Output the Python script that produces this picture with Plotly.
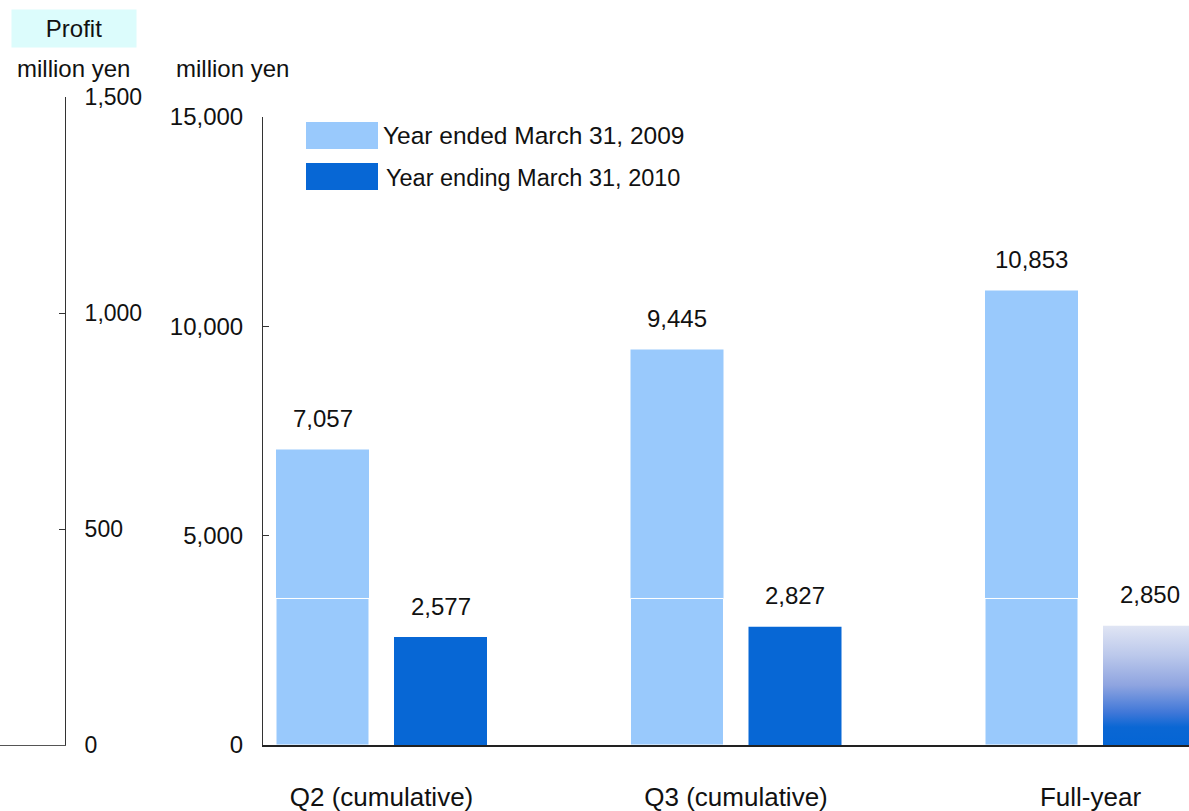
import plotly.graph_objects as go

W, H = 1189, 811

categories = ["Q2 (cumulative)", "Q3 (cumulative)", "Full-year"]
fy2009 = [7057, 9445, 10853]
fy2010 = [2577, 2827, 2850]
fy2010_forecast = [False, False, True]
split_level = [3500, 3500, 3500]
series_names = ["Year ended March 31, 2009", "Year ending March 31, 2010"]
main_ticks = [0, 5000, 10000, 15000]
left_ticks = [0, 500, 1000, 1500]

LIGHT = "#99c9fc"
DARK = "#0767d5"
FONT = "Arial, Liberation Sans, sans-serif"
FS = 24


def px(x):
    return x / W


def py(y):
    return 1 - y / H


xpos = list(range(len(categories)))
unit = 354.5
bw = 93 / unit
off_light = -105.5 / unit
off_dark = 12.5 / unit

fig = go.Figure()

# Light bars (previous year)
fig.add_trace(go.Bar(
    x=xpos, y=fy2009, width=bw, offset=off_light,
    marker=dict(color=LIGHT, line=dict(width=0)),
    name=series_names[0], showlegend=False, hoverinfo="skip"))
fig.add_trace(go.Bar(
    x=xpos, y=split_level, width=bw, offset=off_light,
    marker=dict(color=LIGHT, line=dict(width=1, color="white")),
    showlegend=False, hoverinfo="skip"))

# Dark bars (current year, actuals)
xd = [x for x, f in zip(xpos, fy2010_forecast) if not f]
yd = [v for v, f in zip(fy2010, fy2010_forecast) if not f]
fig.add_trace(go.Bar(
    x=xd, y=yd, width=bw, offset=off_dark,
    marker=dict(color=DARK, line=dict(width=0)),
    name=series_names[1], showlegend=False, hoverinfo="skip"))

# Forecast bar with vertical gradient
for x, v, f in zip(xpos, fy2010, fy2010_forecast):
    if not f:
        continue
    x0 = x + off_dark
    x1 = x0 + bw
    fig.add_trace(go.Scatter(
        x=[x0, x1, x1, x0, x0], y=[0, 0, v, v, 0],
        mode="lines", line=dict(width=0), fill="toself",
        fillgradient=dict(
            type="vertical", start=0, stop=v,
            colorscale=[[0, "#0565d4"], [0.15, "#0a67d4"], [0.27, "#3f77d8"],
                        [0.5, "#8ea4e0"], [0.75, "#bbc8eb"], [1, "#e0e5f4"]]),
        showlegend=False, hoverinfo="skip"))

# invisible trace for the left axis subplot
fig.add_trace(go.Scatter(x=[0.5], y=[0], xaxis="x2", yaxis="y2",
                         mode="markers", marker=dict(opacity=0),
                         showlegend=False, hoverinfo="skip"))

annotations = []
# value labels
for x, v in zip(xpos, fy2009):
    annotations.append(dict(x=x + off_light + bw / 2, y=v, xref="x", yref="y",
                            text=f"{v:,}", showarrow=False, yanchor="middle",
                            yshift=31, font=dict(size=FS, color="#111")))
for x, v in zip(xpos, fy2010):
    annotations.append(dict(x=x + off_dark + bw / 2, y=v, xref="x", yref="y",
                            text=f"{v:,}", showarrow=False, yanchor="middle",
                            yshift=31, font=dict(size=FS, color="#111")))

# Titles
annotations.append(dict(x=px(74), y=py(28.5), xref="paper", yref="paper",
                        text="Profit", showarrow=False, bgcolor="#dcfcfc",
                        width=122, height=35, borderpad=1,
                        xanchor="center", yanchor="middle",
                        font=dict(size=FS, color="#111")))
annotations.append(dict(x=px(15), y=py(68), xref="paper", yref="paper",
                        text="million yen", showarrow=False,
                        xanchor="left", yanchor="middle",
                        font=dict(size=FS, color="#111")))
annotations.append(dict(x=px(174), y=py(68), xref="paper", yref="paper",
                        text="million yen", showarrow=False,
                        xanchor="left", yanchor="middle",
                        font=dict(size=FS, color="#111")))

# Legend (manual)
shapes = [
    dict(type="rect", xref="paper", yref="paper", x0=px(306), x1=px(378),
         y0=py(149), y1=py(122), fillcolor=LIGHT, line=dict(width=0)),
    dict(type="rect", xref="paper", yref="paper", x0=px(306), x1=px(378),
         y0=py(190), y1=py(163), fillcolor=DARK, line=dict(width=0)),
]
annotations.append(dict(x=px(381), y=py(135.5), xref="paper", yref="paper",
                        text=series_names[0], showarrow=False,
                        xanchor="left", yanchor="middle",
                        font=dict(size=24.5, color="#111")))
annotations.append(dict(x=px(384), y=py(178), xref="paper", yref="paper",
                        text=series_names[1], showarrow=False,
                        xanchor="left", yanchor="middle",
                        font=dict(size=23.5, color="#111")))

fig.update_layout(
    width=W, height=H,
    margin=dict(l=0, r=0, t=0, b=0, pad=0, autoexpand=False),
    paper_bgcolor="white", plot_bgcolor="white",
    barmode="overlay",
    font=dict(family=FONT, color="#111"),
    showlegend=False,
    xaxis=dict(domain=[px(263), 1], range=[(263 - 381.5) / unit, (W - 381.5) / unit],
               showline=True, linecolor="#222", linewidth=1.5,
               tickvals=xpos, ticktext=categories, ticks="",
               tickfont=dict(size=26, color="#111"),
               ticklabelstandoff=28, automargin=False,
               showgrid=False, zeroline=False, fixedrange=True),
    yaxis=dict(domain=[py(745), py(117)], range=[0, 15000],
               showline=True, linecolor="#333", linewidth=1,
               tickvals=main_ticks, ticktext=[f"{t:,}" for t in main_ticks],
               ticks="inside", ticklen=6, tickcolor="#333",
               tickfont=dict(size=FS, color="#111"),
               ticklabelstandoff=14, automargin=False,
               showgrid=False, zeroline=False),
    xaxis2=dict(domain=[0, px(65)], range=[0, 1], anchor="y2",
                showline=True, linecolor="#555", linewidth=1, automargin=False,
                showticklabels=False, ticks="", showgrid=False, zeroline=False),
    yaxis2=dict(domain=[py(745), py(97)], range=[0, 1500], anchor="x2", side="right",
                showline=True, linecolor="#333", linewidth=1,
                tickvals=left_ticks, ticktext=[f"{t:,}" for t in left_ticks],
                ticks="inside", ticklen=6, tickcolor="#333",
                tickfont=dict(size=23, color="#111"),
                ticklabelstandoff=14, automargin=False,
                showgrid=False, zeroline=False),
    shapes=shapes,
    annotations=annotations,
)

fig.write_html("out.html")
